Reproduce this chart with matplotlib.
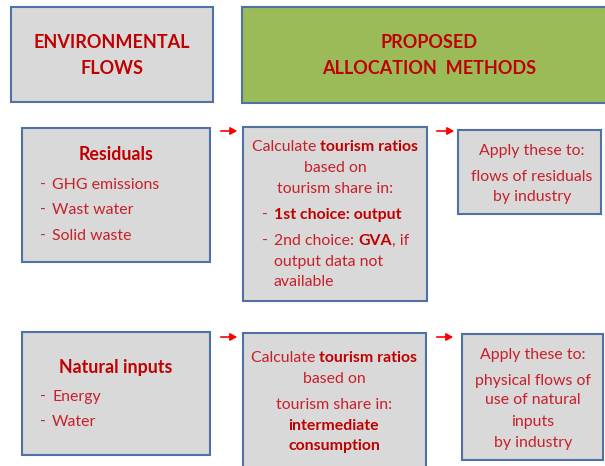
import matplotlib.pyplot as plt
from matplotlib.patches import Rectangle, FancyArrowPatch

# text content of the diagram
header_left = ["ENVIRONMENTAL", "FLOWS"]
header_right = ["PROPOSED", "ALLOCATION  METHODS"]

residuals_title = "Residuals"
residuals_items = ["GHG emissions", "Wast water", "Solid waste"]

natural_title = "Natural inputs"
natural_items = ["Energy", "Water"]

# segments: (text, bold)
method_residuals = [
    [("Calculate ", False), ("tourism ratios", True)],
    [("based on", False)],
    [("tourism share in:", False)],
]
method_residuals_items = [
    [[("1st choice: output", True)]],
    [[("2nd choice: ", False), ("GVA", True), (", if", False)],
     [("output data not", False)],
     [("available", False)]],
]
method_natural = [
    [("Calculate ", False), ("tourism ratios", True)],
    [("based on", False)],
    [("tourism share in:", False)],
    [("intermediate", True)],
    [("consumption", True)],
]

apply_residuals = ["Apply these to:", "flows of residuals", "by industry"]
apply_natural = ["Apply these to:", "physical flows of", "use of natural", "inputs", "by industry"]

FONT = "Lato"
RED = "#C00000"
TXT = "#C8202A"
GRAY = "#D9D9D9"
EDGE = "#4F72A6"
GREEN = "#9BBB59"
HEAD = 13
TITLE = 12.8
BODY = 11.4

fig = plt.figure(figsize=(6.05, 4.66), dpi=100)
ax = fig.add_axes([0, 0, 1, 1])
ax.set_xlim(0, 605)
ax.set_ylim(466, 0)
ax.axis("off")
renderer = fig.canvas.get_renderer()


def box(x0, y0, x1, y1, fc=GRAY):
    ax.add_patch(Rectangle((x0, y0), x1 - x0, y1 - y0, facecolor=fc,
                           edgecolor=EDGE, linewidth=1.5, clip_on=False))


def arrow(x0, x1, y):
    ax.add_patch(FancyArrowPatch((x0, y), (x1, y), arrowstyle="-|>,head_length=4,head_width=2.2",
                                 color="#FF0000", linewidth=1.2, mutation_scale=1))


def width_of(text, bold, size):
    t = ax.text(0, 0, text, fontsize=size, fontfamily=FONT,
                fontweight="bold" if bold else "normal")
    w = t.get_window_extent(renderer).width
    t.remove()
    return w


def rich_line(x, y, segments, size, ha="center"):
    widths = [width_of(s, b, size) for s, b in segments]
    total = sum(widths)
    start = x - total / 2 if ha == "center" else x
    for (s, b), w in zip(segments, widths):
        color = RED if b else TXT
        ax.text(start, y, s, fontsize=size, fontfamily=FONT, color=color,
                fontweight="bold" if b else "normal", ha="left", va="center")
        start += w


def plain(x, y, s, size, bold=False, ha="center"):
    ax.text(x, y, s, fontsize=size, fontfamily=FONT, color=RED if bold else TXT,
            fontweight="bold" if bold else "normal", ha=ha, va="center")


# header row
box(11, 7, 213, 102)
box(242, 7, 625, 103, fc=GREEN)
for s, y in zip(header_left, [43, 69]):
    plain(112, y, s, HEAD, bold=True)
for s, y in zip(header_right, [43, 69]):
    plain(429, y, s, HEAD, bold=True)

# residuals row
box(22, 128, 210, 262)
box(243, 127, 427, 301)
box(458, 130, 601, 214)
arrow(218, 240, 131)
arrow(434, 457, 131)

plain(116, 155, residuals_title, TITLE, bold=True)
for s, y in zip(residuals_items, [185, 210, 236]):
    plain(40, y, "-", BODY, ha="left")
    plain(52, y, s, BODY, ha="left")

for seg, y in zip(method_residuals, [147, 168, 189]):
    rich_line(335, y, seg, BODY)
ys = iter([215, 241, 262, 282])
for item in method_residuals_items:
    for i, seg in enumerate(item):
        y = next(ys)
        if i == 0:
            plain(262, y, "-", BODY, ha="left")
        rich_line(274, y, seg, BODY, ha="left")

for s, y in zip(apply_residuals, [151, 177, 197]):
    plain(532, y, s, BODY)

# natural inputs row
box(22, 332, 210, 455)
box(243, 333, 426, 480)
box(462, 334, 603, 460)
arrow(218, 240, 337)
arrow(434, 456, 337)

plain(116, 367, natural_title, TITLE, bold=True)
for s, y in zip(natural_items, [397, 422]):
    plain(40, y, "-", BODY, ha="left")
    plain(52, y, s, BODY, ha="left")

for seg, y in zip(method_natural, [358, 379, 405, 426, 446]):
    rich_line(334, y, seg, BODY)

for s, y in zip(apply_natural, [355, 381, 400, 422, 443]):
    plain(533, y, s, BODY)

fig.savefig("out.png", dpi=100)
